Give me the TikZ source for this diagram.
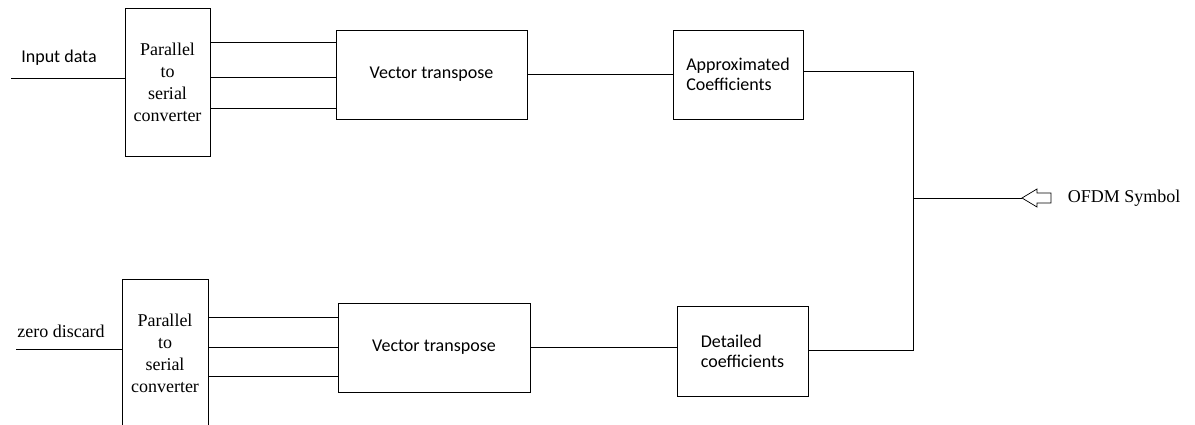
\documentclass[tikz,border=0pt]{standalone}
\usepackage{fontspec}
\setmainfont{Liberation Serif}
\newfontfamily\calibrifont{Carlito}
\usetikzlibrary{calc}

\begin{document}
\begin{tikzpicture}[x=1pt,y=-1pt,line width=0.9pt,
  box/.style={draw, inner sep=0pt, align=center},
  ser/.style={font=\rmfamily\fontsize{18}{22}\selectfont},
  cal/.style={font=\calibrifont\fontsize{18}{20}\selectfont}]

\useasboundingbox (0,0) rectangle (1195,425);

% upper branch
\node[box,ser,minimum width=85pt,minimum height=148pt] (ps1) at (167.5,82) {Parallel\\to\\serial\\converter};
\node[box,cal,minimum width=191pt,minimum height=89pt] (vt1) at (431.5,74.5) {Vector transpose};
\node[box,cal,align=left,minimum width=130pt,minimum height=89pt] (apx) at (738,74.5) {Approximated\\Coefficients};
\node[cal] (inlab1) at (59,58) {Input data};
\coordinate (in1) at (11,78);

% lower branch
\node[box,ser,minimum width=86pt,minimum height=148pt] (ps2) at (165,353) {Parallel\\to\\serial\\converter};
\node[box,cal,minimum width=192pt,minimum height=89pt] (vt2) at (434,347.5) {Vector transpose};
\node[box,cal,align=left,minimum width=131pt,minimum height=90pt] (det) at (742.5,351) {Detailed\\coefficients};
\node[ser] (inlab2) at (61,331) {zero discard};
\coordinate (in2) at (16,349);

% junction and output
\coordinate (jtop) at (913,71);
\coordinate (jmid) at (913,198);
\coordinate (jbot) at (913,350);
\coordinate (tip) at (1022,198);
\node[ser,anchor=west] (ofdm) at (1064,198) {OFDM Symbol};

\draw (in1) -- (ps1.west |- in1);
\draw (in2) -- (ps2.west |- in2);
\foreach \dy in {-32.5,2.5,33.5}
  \draw (ps1.east |- {$(vt1.west)+(0,\dy)$}) -- ($(vt1.west)+(0,\dy)$);
\foreach \dy in {-30.5,-0.5,28.5}
  \draw (ps2.east |- {$(vt2.west)+(0,\dy)$}) -- ($(vt2.west)+(0,\dy)$);
\draw (vt1.east) -- (apx.west |- vt1.east);
\draw (vt2.east) -- (det.west |- vt2.east);
\draw (apx.east |- jtop) -- (jtop) -- (jbot) -- (det.east |- jbot);
\draw (jmid) -- (tip);
\draw[line width=0.7pt] (tip) -- ++(15,-9) -- ++(0,4) -- ++(14,0) -- ++(0,10) -- ++(-14,0) -- ++(0,4) -- cycle;
\end{tikzpicture}
\end{document}
